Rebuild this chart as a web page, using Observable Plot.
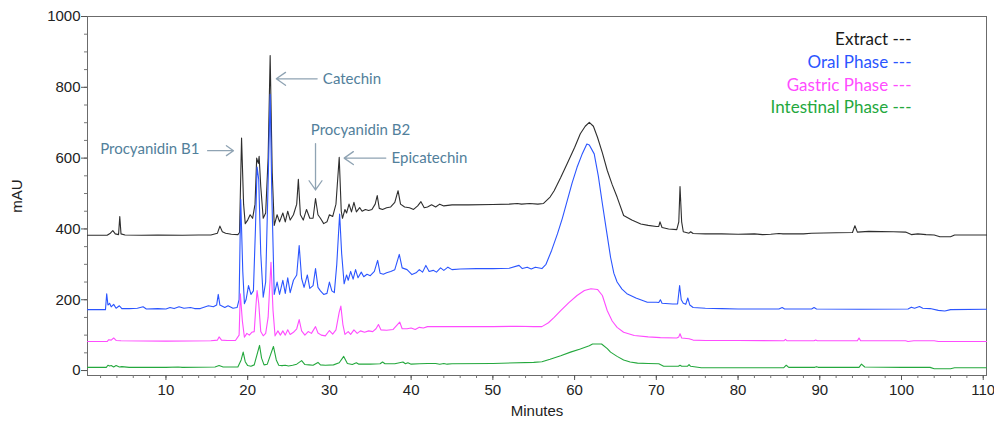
<!DOCTYPE html>
<html>
<head>
<meta charset="utf-8">
<script src="https://cdn.jsdelivr.net/npm/d3@7"></script>
<script src="https://cdn.jsdelivr.net/npm/@observablehq/plot@0.6"></script>
<style>
  html, body { margin: 0; padding: 0; background: #fff; }
  #chart { width: 994px; height: 422px; }
</style>
</head>
<body>
<div id="chart"></div>
<script>
// ---------- data ----------
const seriesNames = ["Extract", "Oral Phase", "Gastric Phase", "Intestinal Phase"];

// [minutes, mAU]
const extractTrace = [[0.4,382],[2.8,382],[3.2,388],[3.5,395],[3.8,386],[4.2,384],[4.35,435],[4.5,386],[5,383],[7,382],[9,383],[12,382],[14,383],[15.5,383],[16.3,388],[16.6,408],[16.9,392],[17.3,388],[18,385],[18.8,384],[19.0,390],[19.25,657],[19.5,470],[19.7,415],[20.0,425],[20.3,440],[20.6,430],[20.9,470],[21.1,600],[21.3,585],[21.4,605],[21.6,520],[21.9,430],[22.2,445],[22.5,600],[22.75,890],[23.0,560],[23.25,410],[23.6,440],[23.9,420],[24.3,445],[24.6,420],[24.9,450],[25.2,425],[25.6,440],[26.0,470],[26.2,540],[26.45,440],[26.8,425],[27.2,455],[27.6,430],[28.0,430],[28.3,486],[28.6,440],[28.9,430],[29.3,415],[29.7,420],[30.0,440],[30.4,435],[30.8,470],[31.2,602],[31.45,450],[31.6,430],[31.9,455],[32.1,445],[32.4,470],[32.7,448],[33.0,475],[33.3,448],[33.7,460],[34.0,450],[34.4,455],[34.8,452],[35.2,455],[35.6,470],[35.85,494],[36.1,458],[36.5,455],[37.0,460],[37.5,462],[38.0,475],[38.4,508],[38.7,470],[39.2,462],[39.8,460],[40.3,455],[40.8,465],[41.2,477],[41.6,460],[42.0,462],[42.5,468],[43.0,462],[43.5,470],[44.0,465],[45,468],[47,468],[50,469],[52,470],[53,472],[53.5,470],[54.5,472],[55.5,470],[56.2,472],[57,490],[57.5,508],[58.3,545],[59.1,585],[60.0,630],[60.7,669],[61.3,690],[61.8,701],[62.3,690],[62.8,659],[63.4,615],[64.0,565],[64.6,525],[65.2,490],[66.0,438],[67.0,425],[68.1,414],[69.0,410],[70.0,407],[70.3,407],[70.45,420],[70.7,404],[71.5,400],[72.5,398],[72.75,420],[72.9,520],[73.1,420],[73.3,392],[74,388],[74.2,392],[74.5,387],[76,386],[78,386],[80,385],[82,386],[83,384],[84,385],[85,387],[85.5,386],[88,386],[89,388],[92,389],[94.0,390],[94.3,409],[94.6,391],[96,393],[99,392],[100.5,391],[101.2,384],[102,386],[103,384],[104,383],[104.7,378],[106,378],[106.5,383],[110.4,383]];

const oralTrace = [[0.4,172],[2.6,172],[2.75,217],[2.9,185],[3.1,190],[3.3,180],[3.6,187],[3.9,176],[4.3,183],[4.6,175],[5.5,175],[6.5,176],[7.2,180],[7.6,174],[9,175],[10,174],[10.5,178],[11,175],[11.6,180],[12.2,176],[13,178],[13.5,175],[14.2,175],[15.2,183],[15.8,180],[16.2,185],[16.4,215],[16.6,185],[17.2,178],[17.6,183],[18.2,176],[18.7,178],[18.95,200],[19.15,483],[19.4,280],[19.6,189],[19.8,200],[20.1,240],[20.4,215],[20.7,225],[20.95,400],[21.15,575],[21.35,540],[21.6,330],[21.9,207],[22.2,250],[22.5,530],[22.75,780],[22.95,500],[23.25,215],[23.6,250],[23.9,215],[24.3,255],[24.6,218],[24.9,262],[25.2,220],[25.6,255],[26.0,270],[26.3,353],[26.6,260],[26.9,235],[27.3,270],[27.6,232],[28.0,240],[28.3,288],[28.6,235],[28.9,225],[29.3,215],[29.7,218],[30.0,250],[30.3,225],[30.6,220],[30.9,300],[31.25,442],[31.5,330],[31.8,245],[32.1,270],[32.3,255],[32.6,280],[32.9,258],[33.2,285],[33.5,262],[33.9,278],[34.2,265],[34.6,272],[35.0,268],[35.5,280],[35.9,311],[36.2,275],[36.6,272],[37.0,276],[37.5,280],[38.0,285],[38.55,328],[38.9,290],[39.5,285],[40.1,271],[40.6,276],[41.0,285],[41.4,278],[41.8,297],[42.2,280],[42.7,283],[43.1,278],[43.6,290],[44.0,283],[44.5,292],[45.0,285],[46,287],[48,288],[50,288],[52,289],[53.2,297],[53.6,288],[54.2,292],[54.7,287],[55.2,292],[56,288],[56.5,300],[57.2,340],[57.9,386],[58.5,430],[59.1,480],[59.7,530],[60.3,574],[60.9,610],[61.5,640],[61.8,637],[62.4,612],[62.9,550],[63.4,471],[63.9,395],[64.4,320],[64.8,275],[65.2,250],[65.8,230],[66.4,217],[67.5,205],[68.9,193],[70.0,193],[70.3,192],[70.5,200],[70.7,190],[72.0,188],[72.6,188],[72.85,240],[73.05,200],[73.3,190],[73.6,187],[73.85,205],[74.1,185],[74.5,178],[76,176],[78,175],[80,174],[82,174],[85,174],[85.4,178],[85.7,174],[89,174],[89.3,178],[89.6,174],[95,173],[100.8,174],[101.2,179],[101.6,176],[102.2,181],[102.6,176],[103.5,175],[104.5,170],[105.3,168],[106,172],[110.4,173]];

const gastricTrace = [[0.4,82],[2.8,82],[3.0,87],[3.3,86],[3.6,92],[3.9,85],[4.5,84],[10,83],[15.5,84],[16.3,86],[16.5,95],[16.8,86],[17.5,85],[18.5,85],[18.95,100],[19.1,217],[19.35,140],[19.6,94],[19.9,105],[20.2,100],[20.5,108],[20.8,110],[21.0,180],[21.15,226],[21.35,190],[21.6,110],[21.9,98],[22.2,105],[22.5,150],[22.85,306],[23.1,170],[23.35,98],[23.7,112],[24.0,100],[24.3,112],[24.6,100],[24.9,115],[25.2,102],[25.6,108],[26.0,118],[26.3,144],[26.6,112],[27.0,100],[27.4,110],[27.8,105],[28.3,124],[28.6,106],[29.0,100],[29.5,98],[30.0,113],[30.4,103],[30.8,115],[31.2,165],[31.4,182],[31.65,130],[31.9,102],[32.3,110],[32.6,102],[33.0,115],[33.4,105],[33.8,112],[34.3,108],[34.8,112],[35.3,110],[35.7,118],[36.0,130],[36.3,115],[37,114],[37.8,116],[38.6,137],[38.9,118],[39.5,118],[40.0,120],[40.5,116],[41,122],[41.5,120],[42,124],[44,124],[46,124],[50,124],[53,125],[55,124],[56,124],[56.8,135],[57.5,150],[58.3,169],[59.3,192],[60.3,212],[61.2,226],[62.0,231],[62.8,229],[63.4,212],[64.0,169],[64.6,140],[65.2,122],[66,108],[67.3,99],[69,95],[70.5,93],[72.5,92],[72.75,95],[72.9,104],[73.1,92],[74,90],[74.5,86],[76,85],[80,85],[85.6,84],[85.8,88],[86.0,84],[89.3,84],[89.5,86],[89.7,84],[94.6,84],[94.8,92],[95.0,84],[100.5,84],[100.8,82],[101.5,84],[104,84],[104.5,82],[110.4,82]];

const intestinalTrace = [[0.4,9],[2.7,9],[2.9,15],[3.1,13],[3.3,14],[3.6,10],[3.9,14],[4.3,10],[4.6,11],[5.5,9],[10,9],[11.5,10],[12,9],[16,10],[16.5,14],[17,10],[18.8,10],[19.2,30],[19.45,52],[19.7,25],[20.0,14],[20.4,12],[20.8,16],[21.2,50],[21.45,71],[21.7,35],[22.0,16],[22.4,18],[22.8,45],[23.15,68],[23.5,30],[23.8,15],[24.2,14],[24.6,15],[25.0,13],[25.5,15],[26.0,18],[26.6,28],[27.0,17],[27.5,16],[28.0,15],[28.6,23],[28.9,16],[29.5,15],[30.5,16],[31.2,22],[31.75,40],[32.2,20],[32.8,17],[33.3,22],[33.6,18],[35,18],[36.2,19],[36.5,24],[36.8,19],[38,19],[39.0,24],[39.3,19],[39.6,22],[40,18],[41,19],[42,20],[43,20],[43.5,18],[44,20],[44.4,18],[45,19],[50,20],[55,23],[56,25],[57,32],[58.3,42],[59.5,52],[60.7,61],[61.8,70],[62.2,75],[63.3,75],[64.0,62],[64.4,52],[65.2,40],[66.0,30],[66.8,24],[67.7,21],[69,20],[70.3,19],[70.9,12],[72.7,12],[72.9,15],[73.1,12],[73.8,12],[74.0,17],[74.2,12],[75.5,8],[80,8],[85.6,8],[85.9,15],[86.2,9],[89.4,9],[89.6,11],[89.8,9],[94.8,9],[95.1,18],[95.5,10],[100,9],[103.5,9],[104,5],[106,5],[106.5,8],[110.4,8]];

const minuteTicks = [10, 20, 30, 40, 50, 60, 70, 80, 90, 100, 110];
const mauTicks = [0, 200, 400, 600, 800, 1000];

// peak annotations: label, text anchor point, arrow start and end (minutes, mAU)
const annotationLabels = ["Procyanidin B1", "Catechin", "Procyanidin B2", "Epicatechin"];
const annotationTextMinute = [14.1, 29.2, 33.8, 37.6];
const annotationTextMAU = [624, 824, 678, 600];
const arrowFromMinute = [15.1, 28.5, 28.3, 36.9];
const arrowFromMAU = [621, 824, 641, 600];
const arrowToMinute = [18.26, 23.5, 28.3, 31.8];
const arrowToMAU = [621, 824, 510, 600];

// ---------- build ----------
const traces = [extractTrace, oralTrace, gastricTrace, intestinalTrace];
const colors = ["#2e2e2e", "#2b55ff", "#ff4cff", "#24a83d"];
const legendColors = ["#1a1a1a", "#2b55ff", "#ff4cff", "#24a83d"];
const annoAnchors = ["end", "start", "middle", "start"];

const rows = traces.map((t, i) => t.map(([m, v]) => ({series: seriesNames[i], minute: m, mAU: v})));
const annotations = annotationLabels.map((label, i) => ({
  label, x: annotationTextMinute[i], y: annotationTextMAU[i],
  x1: arrowFromMinute[i], y1: arrowFromMAU[i], x2: arrowToMinute[i], y2: arrowToMAU[i],
  anchor: annoAnchors[i]
}));

const calibri = "Lato, 'Open Sans', sans-serif";

const chart = Plot.plot({
  width: 994,
  height: 422,
  marginLeft: 87,
  marginRight: 8,
  marginTop: 16,
  marginBottom: 47,
  style: {fontFamily: "'Liberation Sans', Arial, sans-serif", fontSize: "14px", background: "#fff", color: "#222"},
  x: {domain: [0.4, 110.4]},
  y: {domain: [-14, 1000]},
  marks: [
    Plot.frame({stroke: "#6b6b6b", strokeWidth: 1}),
    // minor ticks
    Plot.axisY({ticks: d3.range(0, 1001, 50), tickSize: 3, text: null, label: null, stroke: "#777"}),
    Plot.axisX({ticks: d3.range(2, 111, 2), tickSize: 3, text: null, label: null, stroke: "#777"}),
    // major ticks + labels
    Plot.axisY({ticks: mauTicks, tickFormat: d3.format("d"), tickSize: 6, tickPadding: 1, label: "mAU", labelAnchor: "center", labelArrow: "none", labelOffset: 76, stroke: "#555", fontSize: 15}),
    Plot.axisX({ticks: minuteTicks, tickFormat: d3.format("d"), tickSize: 5, tickPadding: 4, label: "Minutes", labelAnchor: "center", labelArrow: "none", labelOffset: 40, stroke: "#555", fontSize: 15}),
    ...rows.map((r, i) => Plot.line(r, {x: "minute", y: "mAU", stroke: colors[i], strokeWidth: 1.1, curve: "linear"})),
    ...annotations.map(a => Plot.arrow([a], {x1: "x1", y1: "y1", x2: "x2", y2: "y2", stroke: "#8fa3b3", strokeWidth: 1.3, headLength: 13, headAngle: 70})),
    ...annotations.map(a => Plot.text([a], {x: "x", y: "y", text: "label", textAnchor: a.anchor, fill: "#52809b", fontFamily: calibri, fontSize: 15})),
    ...seriesNames.map((name, i) => Plot.text([name + " ---"], {frameAnchor: "top-right", text: d => d, dx: -75, dy: 23.3 + i * 22.7, lineAnchor: "middle", fill: legendColors[i], fontFamily: calibri, fontSize: 17, textAnchor: "end"}))
  ]
});
document.getElementById("chart").appendChild(chart);
</script>
</body>
</html>
